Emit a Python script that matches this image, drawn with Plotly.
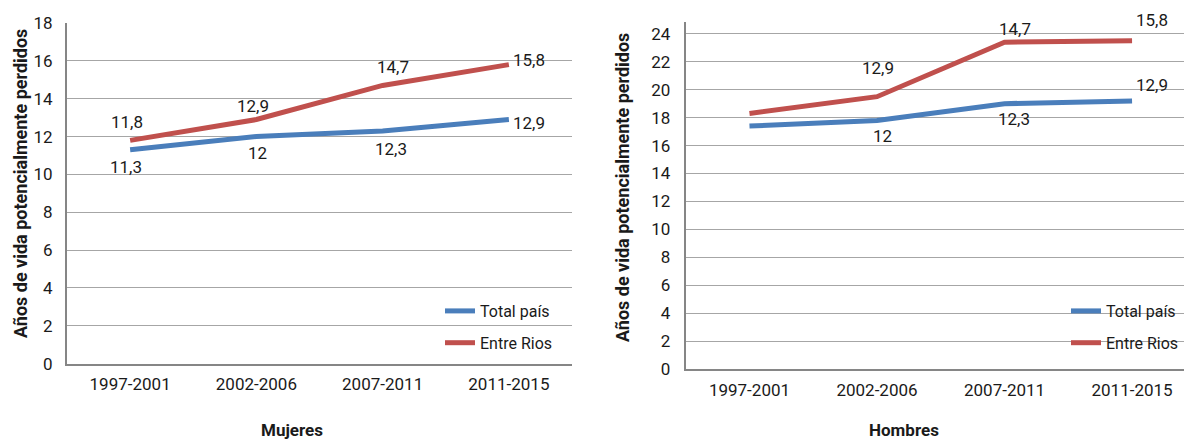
import plotly.graph_objects as go

categories = ["1997-2001", "2002-2006", "2007-2011", "2011-2015"]

# Mujeres (left)
muj_total = [11.3, 12.0, 12.3, 12.9]
muj_entre = [11.8, 12.9, 14.7, 15.8]
muj_total_labels = ["11,3", "12", "12,3", "12,9"]
muj_entre_labels = ["11,8", "12,9", "14,7", "15,8"]

# Hombres (right)
hom_total = [17.4, 17.8, 19.0, 19.2]
hom_entre = [18.3, 19.5, 23.4, 23.5]
hom_total_labels = [None, "12", "12,3", "12,9"]
hom_entre_labels = [None, "12,9", "14,7", "15,8"]

series_names = ["Total país", "Entre Rios"]
y_title = "Años de vida potencialmente perdidos"
panel_titles = ["Mujeres", "Hombres"]

BLUE = "#4A7EBB"
RED = "#C0504D"
FONT = "Roboto, sans-serif"
TXT = "#1a1a1a"
FS = 17

# page body has an 8px margin: figure is sized to fit the window
OFF = 8
W, H = 1192 - OFF, 440 - OFF


def px(x):
    return (x - OFF) / W


def py(y):
    return 1 - (y - OFF) / H


fig = go.Figure()

fig.add_trace(go.Scatter(x=categories, y=muj_total, mode="lines", name=series_names[0],
                         line=dict(color=BLUE, width=5), xaxis="x", yaxis="y",
                         legend="legend", legendgroup="a"))
fig.add_trace(go.Scatter(x=categories, y=muj_entre, mode="lines", name=series_names[1],
                         line=dict(color=RED, width=5), xaxis="x", yaxis="y",
                         legend="legend", legendgroup="b"))
fig.add_trace(go.Scatter(x=categories, y=hom_total, mode="lines", name=series_names[0],
                         line=dict(color=BLUE, width=5), xaxis="x2", yaxis="y2",
                         legend="legend2", legendgroup="c"))
fig.add_trace(go.Scatter(x=categories, y=hom_entre, mode="lines", name=series_names[1],
                         line=dict(color=RED, width=5), xaxis="x2", yaxis="y2",
                         legend="legend2", legendgroup="d"))

annotations = []


def add_labels(xref, yref, values, labels, shifts):
    for cat, v, lab, (dx, dy) in zip(categories, values, labels, shifts):
        if lab is None:
            continue
        annotations.append(dict(x=cat, y=v, xref=xref, yref=yref, text=lab,
                                showarrow=False, xshift=dx, yshift=dy,
                                xanchor="center", yanchor="middle",
                                font=dict(family=FONT, size=FS, color=TXT)))


add_labels("x", "y", muj_entre, muj_entre_labels, [(-3, 18), (-3, 14), (10, 18), (20, 5)])
add_labels("x", "y", muj_total, muj_total_labels, [(-4, -17), (1, -16), (8, -18), (20, -3)])
add_labels("x2", "y2", hom_entre, hom_entre_labels, [(0, 0), (1, 29), (10, 13), (20, 21)])
add_labels("x2", "y2", hom_total, hom_total_labels, [(0, 0), (5, -16), (9, -15), (20, 16)])

# axis titles
ytitle_font = dict(family=FONT, size=18, color=TXT, weight="bold")
xtitle_font = dict(family=FONT, size=17, color=TXT, weight="bold")
paper_ann = dict(xref="paper", yref="paper", showarrow=False, xanchor="center", yanchor="middle")
annotations.append(dict(x=px(20), y=py(184), text=y_title, textangle=-90, font=ytitle_font, **paper_ann))
annotations.append(dict(x=px(622), y=py(187), text=y_title, textangle=-90, font=ytitle_font, **paper_ann))
annotations.append(dict(x=px(292), y=py(430), text=panel_titles[0], font=xtitle_font, **paper_ann))
annotations.append(dict(x=px(904), y=py(430), text=panel_titles[1], font=xtitle_font, **paper_ann))

axis_common = dict(showline=True, linecolor="#868686", linewidth=2, zeroline=False,
                   tickfont=dict(family=FONT, size=FS, color=TXT), ticks="", fixedrange=True)

legend_common = dict(bgcolor="rgba(0,0,0,0)", borderwidth=0, tracegroupgap=8,
                     font=dict(family=FONT, size=16, color=TXT), orientation="v",
                     xanchor="left", yanchor="top")

fig.update_layout(
    width=W, height=H,
    margin=dict(l=0, r=0, t=0, b=0, autoexpand=False),
    paper_bgcolor="white", plot_bgcolor="white",
    showlegend=True,
    xaxis=dict(domain=[px(67), px(572)], type="category", range=[-0.5, 3.5],
               showgrid=False, anchor="y", ticklabelstandoff=4, **axis_common),
    yaxis=dict(domain=[py(363.7), py(23)], range=[0, 18], dtick=2,
               showgrid=True, gridcolor="#a6a6a6", gridwidth=1, anchor="x",
               ticklabelstandoff=9, **axis_common),
    xaxis2=dict(domain=[px(685.7), 1.0], type="category", range=[-0.5, 3.47],
                showgrid=False, anchor="y2", ticklabelstandoff=5, **axis_common),
    yaxis2=dict(domain=[py(369), py(21.7)], range=[0, 24.87], dtick=2,
                showgrid=True, gridcolor="#a6a6a6", gridwidth=1, anchor="x2",
                ticklabelstandoff=10, **axis_common),
    legend=dict(x=px(440), y=py(294), **legend_common),
    legend2=dict(x=px(1066), y=py(294), **legend_common),
    annotations=annotations,
)

fig.write_html("out.html")
